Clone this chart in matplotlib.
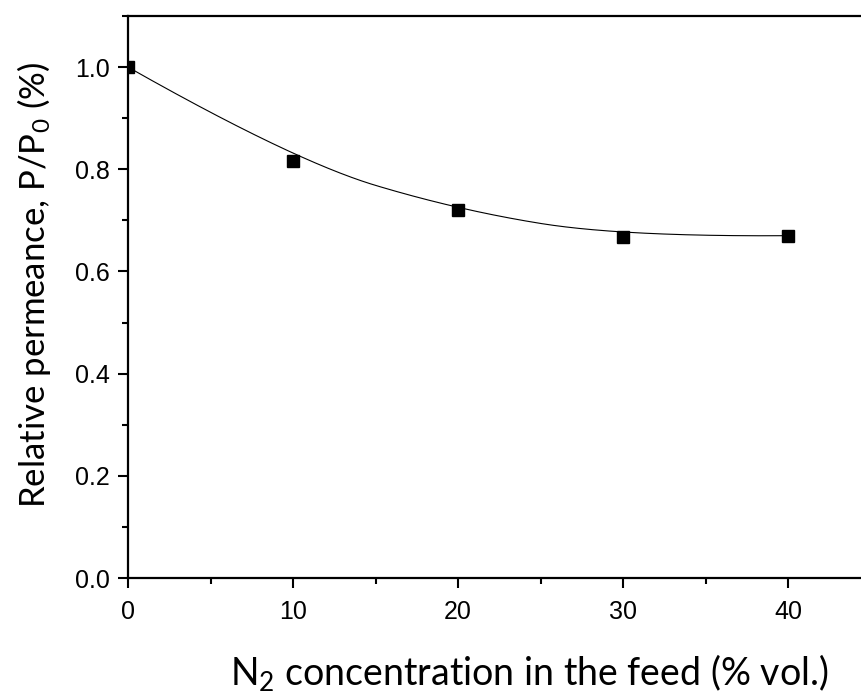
import numpy as np
import matplotlib
matplotlib.use("Agg")
import matplotlib.pyplot as plt
from matplotlib.ticker import MultipleLocator

# Data
n2_conc = [0, 10, 20, 30, 40]
rel_perm = [1.0, 0.817, 0.720, 0.668, 0.670]

plt.rcParams['mathtext.fontset'] = 'custom'
plt.rcParams['mathtext.rm'] = 'Lato'
plt.rcParams['mathtext.default'] = 'rm'

fig = plt.figure(figsize=(8.61, 6.93), dpi=100)
W, H = 861, 693
left, right, top, bottom = 128, 870.5, 16, 578
ax = fig.add_axes([left / W, 1 - bottom / H, (right - left) / W, (bottom - top) / H])


# Clamped B-spline using the data points as control points (smooth connecting line)
def bspline(ctrl, k=2, n=400):
    ctrl = np.asarray(ctrl, float)
    m = len(ctrl)
    inner = np.linspace(0, 1, m - k + 1)[1:-1]
    t = np.concatenate([np.zeros(k + 1), inner, np.ones(k + 1)])
    u = np.linspace(0, 1, n)
    u[-1] = 1 - 1e-12

    def N(i, p, uu):
        if p == 0:
            return np.where((t[i] <= uu) & (uu < t[i + 1]), 1.0, 0.0)
        a = np.zeros_like(uu)
        if t[i + p] > t[i]:
            a = (uu - t[i]) / (t[i + p] - t[i]) * N(i, p - 1, uu)
        b = np.zeros_like(uu)
        if t[i + p + 1] > t[i + 1]:
            b = (t[i + p + 1] - uu) / (t[i + p + 1] - t[i + 1]) * N(i + 1, p - 1, uu)
        return a + b

    B = np.column_stack([N(i, k, u) for i in range(m)])
    return B @ ctrl


curve = bspline(np.column_stack([n2_conc, rel_perm]))
ax.plot(curve[:, 0], curve[:, 1], color='black', lw=0.8)
ax.plot(n2_conc, rel_perm, linestyle='none', marker='s', color='black', markersize=9)

ax.set_xlim(0, 45)
ax.set_ylim(0, 1.1)
ax.xaxis.set_major_locator(MultipleLocator(10))
ax.xaxis.set_minor_locator(MultipleLocator(5))
ax.yaxis.set_minor_locator(MultipleLocator(0.1))
ax.set_yticks([0, 0.2, 0.4, 0.6, 0.8, 1.0])
ax.set_yticklabels(['0.0', '0.2', '0.4', '0.6', '0.8', '1.0'])

for s in ax.spines.values():
    s.set_linewidth(1.6)
ax.tick_params(which='major', direction='out', length=7, width=1.5, labelsize=18)
ax.tick_params(axis='x', which='major', pad=9)
ax.tick_params(axis='y', which='major', pad=6)
ax.tick_params(which='minor', direction='out', length=4, width=1.5)
for lab in ax.get_xticklabels() + ax.get_yticklabels():
    lab.set_fontfamily('Liberation Sans')

ax.set_xlabel(r'N$_2$ concentration in the feed (% vol.)', fontsize=27,
              fontfamily='Lato', labelpad=20)
ax.xaxis.label.set_x((529 - left) / (right - left))
ax.set_ylabel(r'Relative permeance, P/P$_0$ (%)', fontsize=25,
              fontfamily='Lato', labelpad=16)
ax.yaxis.label.set_y((bottom - 285) / (bottom - top))

fig.savefig('out.png', dpi=100)
